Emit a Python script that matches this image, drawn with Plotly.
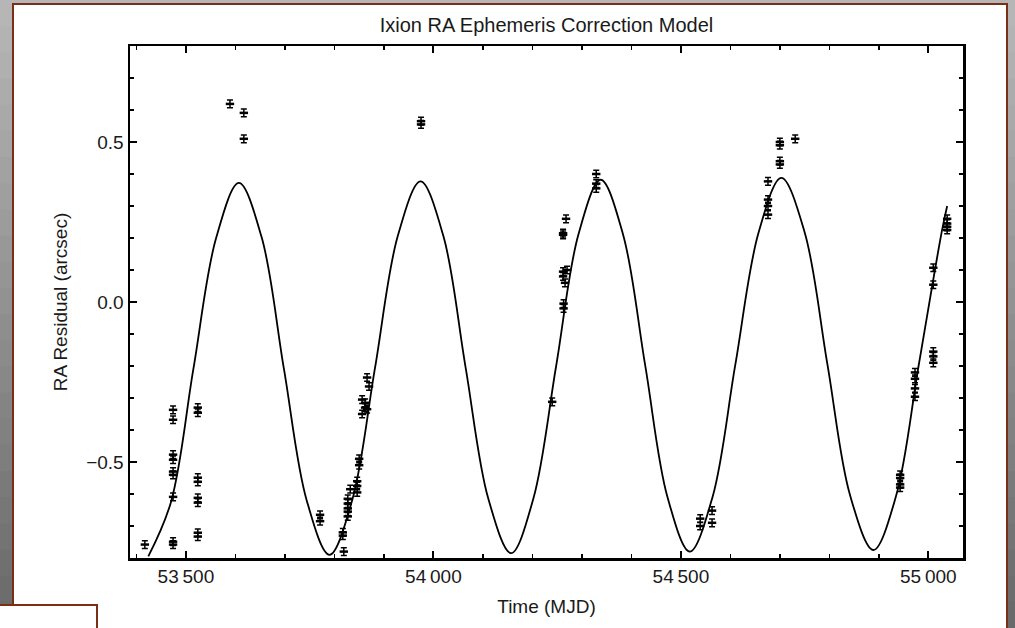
import plotly.graph_objects as go

# ---------------- data ----------------
obs_mjd = [
    53417,
    53474, 53474, 53474, 53474, 53474, 53474, 53474, 53474, 53474,
    53524, 53524, 53524, 53524, 53524, 53524, 53524, 53524,
    53589, 53617, 53617,
    53771, 53771,
    53817, 53817, 53819,
    53827, 53827, 53827, 53827, 53827, 53832,
    53846, 53846, 53846,
    53850, 53850,
    53856, 53856, 53862, 53862, 53866, 53866, 53870,
    53975, 53975,
    54240,
    54262, 54262, 54268, 54262, 54262, 54270, 54263, 54263, 54266,
    54329, 54329, 54329,
    54539, 54539, 54563, 54563,
    54676, 54676, 54676, 54676, 54700, 54700, 54700, 54700, 54731,
    54943, 54943, 54943, 54943,
    54973, 54973, 54973, 54973,
    55010, 55010, 55010, 55010, 55010,
    55038, 55038, 55038, 55038,
]
obs_res = [
    -0.758,
    -0.337, -0.368, -0.477, -0.493, -0.530, -0.540, -0.609, -0.749, -0.758,
    -0.330, -0.346, -0.549, -0.562, -0.612, -0.627, -0.721, -0.733,
    0.619, 0.591, 0.510,
    -0.665, -0.685,
    -0.720, -0.730, -0.780,
    -0.615, -0.630, -0.645, -0.655, -0.670, -0.585,
    -0.560, -0.575, -0.595,
    -0.490, -0.510,
    -0.350, -0.305, -0.315, -0.330, -0.236, -0.335, -0.264,
    0.555, 0.565,
    -0.312,
    0.210, 0.215, 0.260, 0.095, 0.080, 0.100, -0.005, -0.020, 0.060,
    0.400, 0.370, 0.355,
    -0.677, -0.700, -0.652, -0.690,
    0.377, 0.320, 0.300, 0.273, 0.430, 0.440, 0.490, 0.500, 0.510,
    -0.540, -0.550, -0.570, -0.580,
    -0.220, -0.240, -0.270, -0.296,
    0.107, 0.054, -0.155, -0.170, -0.190,
    0.260, 0.245, 0.235, 0.225,
]
obs_err = [0.012] * len(obs_res)

model_mjd = [
    53424, 53470, 53515, 53561, 53607,
    53653, 53698, 53744, 53790,
    53836, 53882, 53928, 53974,
    54020, 54065, 54111, 54157,
    54202, 54248, 54293, 54338,
    54383, 54428, 54473, 54518,
    54564, 54610, 54657, 54703,
    54750, 54796, 54842, 54889,
    54935, 54981, 55027, 55038,
]
model_res = [
    -0.795, -0.624, -0.210, 0.200, 0.372,
    0.202, -0.209, -0.620, -0.790,
    -0.619, -0.206, 0.206, 0.377,
    0.207, -0.204, -0.615, -0.785,
    -0.614, -0.200, 0.211, 0.382,
    0.212, -0.199, -0.610, -0.780,
    -0.609, -0.196, 0.217, 0.388,
    0.218, -0.194, -0.605, -0.775,
    -0.605, -0.193, 0.219, 0.300,
]

x_tickvals = [53500, 54000, 54500, 55000]
x_ticktext = ["53\u2009500", "54\u2009000", "54\u2009500", "55\u2009000"]
y_tickvals = [-0.5, 0.0, 0.5]
y_ticktext = ["\u22120.5", "0.0", "0.5"]

title_text = "Ixion RA Ephemeris Correction Model"
x_title = "Time (MJD)"
y_title = "RA Residual (arcsec)"

# ---------------- layout geometry ----------------
W, H = 1015, 628
ML, MR, MT, MB = 130, 52, 46, 70
PW = W - ML - MR
PH = H - MT - MB


def xp(px):
    return (px - ML) / PW


def yp(py):
    return (H - MB - py) / PH


FONT = "Liberation Sans, Arial, Helvetica, sans-serif"
BROWN = "#7a2e14"

fig = go.Figure()

fig.add_trace(go.Scatter(
    x=model_mjd, y=model_res, mode="lines",
    line=dict(color="black", width=1.8, shape="spline", smoothing=1.0),
    hoverinfo="skip", showlegend=False,
))

fig.add_trace(go.Scatter(
    x=obs_mjd, y=obs_res, mode="markers",
    marker=dict(symbol="line-ew", size=6, color="black",
                line=dict(color="black", width=2.5)),
    error_y=dict(type="data", array=obs_err, visible=True,
                 color="black", thickness=1.5, width=3),
    showlegend=False,
))

# background decorations (gray gradient page, white panel with brown border)
shapes = []
nb = 24
top_c = (184, 184, 184)
bot_c = (104, 104, 104)
for i in range(nb):
    t = (i + 0.5) / nb
    c = tuple(int(round(top_c[k] + (bot_c[k] - top_c[k]) * t)) for k in range(3))
    y0 = H * i / nb
    y1 = H * (i + 1) / nb + 1
    shapes.append(dict(type="rect", xref="paper", yref="paper", layer="below",
                       x0=xp(-5), x1=xp(W + 5), y0=yp(y1), y1=yp(y0),
                       fillcolor="rgb(%d,%d,%d)" % c, line=dict(width=0)))
shapes.append(dict(type="rect", xref="paper", yref="paper", layer="below",
                   x0=xp(13), x1=xp(1007), y0=yp(H + 20), y1=yp(4),
                   fillcolor="white", line=dict(color=BROWN, width=2)))
shapes.append(dict(type="rect", xref="paper", yref="paper", layer="below",
                   x0=xp(-10), x1=xp(97), y0=yp(H + 20), y1=yp(605),
                   fillcolor="white", line=dict(color=BROWN, width=2)))

fig.update_layout(
    width=W, height=H,
    margin=dict(l=ML, r=MR, t=MT, b=MB, pad=0),
    paper_bgcolor="#8c8c8c",
    plot_bgcolor="white",
    shapes=shapes,
    font=dict(family=FONT, size=20, color="#1a1a1a"),
    title=dict(text=title_text, x=(ML + PW / 2) / W, xanchor="center",
               y=1 - 25 / H, yanchor="middle",
               font=dict(family=FONT, size=20, color="#1a1a1a")),
    xaxis=dict(
        range=[53387, 55070], tickvals=x_tickvals, ticktext=x_ticktext,
        ticks="inside", ticklen=7, tickwidth=2, tickcolor="black",
        showline=True, linecolor="black", linewidth=2.5, mirror="allticks",
        showgrid=False, zeroline=False,
        minor=dict(dtick=100, tick0=53400, ticks="inside", ticklen=4,
                   tickwidth=1.5, tickcolor="black", showgrid=False),
        title=dict(text=x_title, standoff=14,
                   font=dict(family=FONT, size=19, color="#1a1a1a")),
        tickfont=dict(family=FONT, size=19, color="#1a1a1a"),
    ),
    yaxis=dict(
        range=[-0.8, 0.8], tickvals=y_tickvals, ticktext=y_ticktext,
        ticks="inside", ticklen=7, tickwidth=2, tickcolor="black",
        showline=True, linecolor="black", linewidth=2.5, mirror="allticks",
        showgrid=False, zeroline=False,
        minor=dict(dtick=0.1, tick0=0, ticks="inside", ticklen=4,
                   tickwidth=1.5, tickcolor="black", showgrid=False),
        title=dict(text=y_title, standoff=14,
                   font=dict(family=FONT, size=19, color="#1a1a1a")),
        tickfont=dict(family=FONT, size=19, color="#1a1a1a"),
    ),
)

fig.write_html(
    "out.html",
    config={"displayModeBar": False, "staticPlot": True},
    post_script="document.body.style.margin='0px';"
                "document.body.style.overflow='hidden';",
)
